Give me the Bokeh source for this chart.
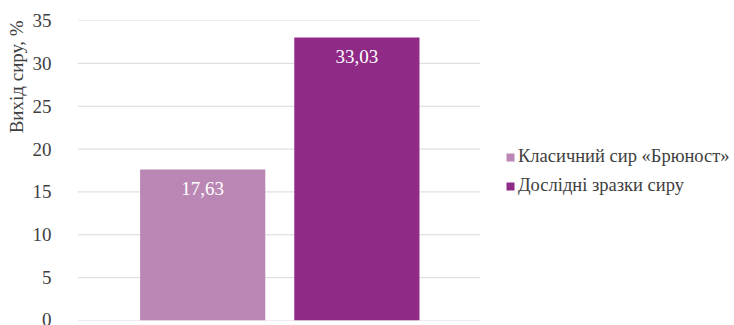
from bokeh.plotting import figure
from bokeh.models import ColumnDataSource, Range1d, LabelSet, Legend, LegendItem, Title
from bokeh.embed import file_html
from bokeh.resources import INLINE

# ---- data ----
categories = ["Вихід сиру"]
series_names = ["Класичний сир «Брюност»", "Дослідні зразки сиру"]
values = [17.63, 33.03]
y_ticks = [0, 5, 10, 15, 20, 25, 30, 35]
y_title = "Вихід сиру, %"

colors = ["#BA87B4", "#8F2A87"]
offsets = [-0.189, 0.194]
FONT = "Liberation Serif"
TXT = "#404040"

# frame spans the chart area plus the legend area; the category occupies [0, 1]
p = figure(x_range=Range1d(0, 661 / 405), y_range=Range1d(0, 35),
           width=734, height=325,
           min_border_top=20, min_border_bottom=5, min_border_left=73, min_border_right=0,
           output_backend="svg", toolbar_location=None)
p.outline_line_color = None
p.background_fill_color = "white"
p.border_fill_color = "white"

# gridlines limited to the category area
p.xgrid.visible = False
p.ygrid.visible = False
grid_src = ColumnDataSource(dict(y=y_ticks, x0=[0] * len(y_ticks), x1=[1] * len(y_ticks)))
p.segment(x0="x0", x1="x1", y0="y", y1="y", source=grid_src, line_color="#D9D9D9", line_width=1)

items = []
for i, name in enumerate(series_names):
    xc = [0.5 + offsets[i] for _ in categories]
    src = ColumnDataSource(dict(x=xc, top=[values[i]],
                                label=[f"{values[i]:.2f}".replace(".", ",")]))
    r = p.vbar(x="x", top="top", width=0.311, source=src,
               fill_color=colors[i], line_color=None)
    items.append(LegendItem(label=name, renderers=[r]))
    lbl = LabelSet(x="x", y="top", text="label", source=src, y_offset=-19,
                   text_align="center", text_baseline="middle",
                   text_color="white", text_font=FONT, text_font_size="19px")
    p.add_layout(lbl)

p.xaxis.visible = False

ya = p.yaxis[0]
ya.ticker = y_ticks
ya.axis_line_color = None
ya.major_tick_line_color = None
ya.minor_tick_line_color = None
ya.major_label_text_font = FONT
ya.major_label_text_font_size = "19px"
ya.major_label_text_color = TXT
ya.major_label_standoff = 20

t = Title(text=y_title, align="right", text_font=FONT, text_font_size="19px",
          text_font_style="normal", text_color=TXT, standoff=6)
p.add_layout(t, "left")

legend = Legend(items=items, location=(428, 124), orientation="vertical",
                label_text_font=FONT, label_text_font_size="18.5px", label_text_color=TXT,
                glyph_width=10, glyph_height=10, label_standoff=3, spacing=8,
                margin=0, padding=0, border_line_color=None, background_fill_alpha=0)
p.add_layout(legend)

open("out.html", "w").write(file_html(p, INLINE))
